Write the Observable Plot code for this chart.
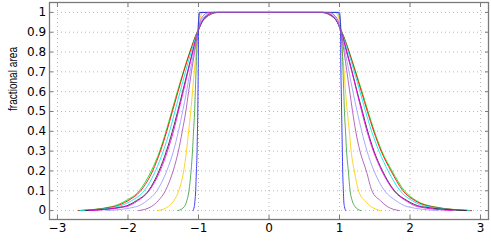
<!DOCTYPE html>
<html>
<head>
<meta charset="utf-8">
<script src="https://cdn.jsdelivr.net/npm/d3@7"></script>
<script src="https://cdn.jsdelivr.net/npm/@observablehq/plot@0.6"></script>
<style>
  html, body { margin: 0; padding: 0; background: #fff; }
  #chart { width: 491px; height: 245px; }
</style>
</head>
<body>
<div id="chart"></div>
<script>
// fractional-area levels at which each curve's left / right edge position was read
const levels = [0, 0.02, 0.05, 0.1, 0.2, 0.3, 0.4, 0.5, 0.6, 0.7, 0.8, 0.9, 0.97, 1];

const seriesNames = ["green", "red", "cyan", "black", "magenta", "lightblue", "yellow", "darkgreen", "blue", "purple"];
const seriesColors = ["#00e000", "#ff0000", "#00e8e8", "#301030", "#ee00ee", "#9a9aff", "#ffcc00", "#3f9f3f", "#2020ff", "#a850b0"];

// left edge x at each level
const greenLeft     = [-2.70, -2.23, -2.03, -1.84, -1.67, -1.55, -1.46, -1.38, -1.30, -1.215, -1.125, -1.02, -0.91, -0.72];
const redLeft       = [-2.70, -2.20, -2.00, -1.82, -1.65, -1.54, -1.45, -1.37, -1.29, -1.21, -1.12, -1.02, -0.91, -0.72];
const cyanLeft      = [-2.68, -2.15, -1.95, -1.77, -1.61, -1.50, -1.41, -1.335, -1.26, -1.185, -1.105, -1.015, -0.91, -0.75];
const blackLeft     = [-2.60, -2.06, -1.88, -1.71, -1.56, -1.455, -1.37, -1.295, -1.225, -1.155, -1.085, -1.01, -0.92, -0.78];
const magentaLeft   = [-2.55, -2.03, -1.86, -1.70, -1.545, -1.44, -1.355, -1.285, -1.215, -1.15, -1.08, -1.01, -0.92, -0.78];
const lightblueLeft = [-2.30, -1.88, -1.73, -1.59, -1.45, -1.355, -1.285, -1.225, -1.17, -1.12, -1.065, -1.01, -0.94, -0.80];
const purpleLeft    = [-1.85, -1.67, -1.57, -1.47, -1.36, -1.285, -1.23, -1.18, -1.14, -1.10, -1.055, -1.01, -0.96, -0.85];
const yellowLeft    = [-1.58, -1.43, -1.35, -1.28, -1.21, -1.17, -1.14, -1.11, -1.085, -1.06, -1.035, -1.01, -0.98, -0.93];
const darkgreenLeft = [-1.29, -1.20, -1.165, -1.135, -1.105, -1.085, -1.07, -1.055, -1.045, -1.035, -1.025, -1.012, -0.995, -0.97];
const blueLeft      = [-1.08, -1.06, -1.05, -1.04, -1.03, -1.02, -1.015, -1.01, -1.007, -1.004, -1.002, -1.0, -0.997, -0.99];

// right edge x at each level
const greenRight     = [2.87, 2.33, 2.09, 1.92, 1.745, 1.60, 1.495, 1.405, 1.32, 1.23, 1.14, 1.035, 0.93, 0.74];
const redRight       = [2.87, 2.30, 2.07, 1.90, 1.73, 1.59, 1.485, 1.395, 1.31, 1.225, 1.135, 1.035, 0.93, 0.74];
const cyanRight      = [2.85, 2.25, 2.03, 1.86, 1.69, 1.56, 1.455, 1.37, 1.29, 1.21, 1.125, 1.03, 0.93, 0.76];
const blackRight     = [2.80, 2.16, 1.96, 1.78, 1.61, 1.49, 1.40, 1.325, 1.25, 1.18, 1.105, 1.025, 0.935, 0.78];
const magentaRight   = [2.60, 2.11, 1.94, 1.77, 1.60, 1.48, 1.39, 1.315, 1.245, 1.175, 1.10, 1.025, 0.935, 0.78];
const lightblueRight = [2.40, 1.96, 1.80, 1.64, 1.49, 1.39, 1.315, 1.25, 1.19, 1.135, 1.08, 1.02, 0.95, 0.80];
const purpleRight    = [1.85, 1.68, 1.58, 1.46, 1.38, 1.29, 1.23, 1.185, 1.145, 1.105, 1.065, 1.02, 0.965, 0.85];
const yellowRight    = [1.58, 1.45, 1.36, 1.27, 1.21, 1.165, 1.14, 1.11, 1.085, 1.065, 1.04, 1.02, 0.99, 0.94];
const darkgreenRight = [1.30, 1.22, 1.18, 1.15, 1.125, 1.10, 1.085, 1.07, 1.06, 1.05, 1.04, 1.025, 1.005, 0.97];
const blueRight      = [1.09, 1.07, 1.06, 1.055, 1.045, 1.04, 1.035, 1.03, 1.025, 1.02, 1.017, 1.015, 1.01, 1.0];

const xTicks = [-3, -2, -1, 0, 1, 2, 3];
const yTicks = [0, 0.1, 0.2, 0.3, 0.4, 0.5, 0.6, 0.7, 0.8, 0.9, 1];
const yLabel = "fractional area";

const leftEdges = {green: greenLeft, red: redLeft, cyan: cyanLeft, black: blackLeft, magenta: magentaLeft,
  lightblue: lightblueLeft, purple: purpleLeft, yellow: yellowLeft, darkgreen: darkgreenLeft, blue: blueLeft};
const rightEdges = {green: greenRight, red: redRight, cyan: cyanRight, black: blackRight, magenta: magentaRight,
  lightblue: lightblueRight, purple: purpleRight, yellow: yellowRight, darkgreen: darkgreenRight, blue: blueRight};

function curvePoints(name) {
  const L = leftEdges[name], R = rightEdges[name];
  const pts = levels.map((v, j) => ({x: L[j], y: v}));
  for (let j = levels.length - 1; j >= 0; j--) pts.push({x: R[j], y: levels[j]});
  return pts;
}

const lineMarks = seriesNames.map((name, i) =>
  Plot.line(curvePoints(name), {x: "x", y: "y", stroke: seriesColors[i], strokeWidth: 1, strokeOpacity: 0.85, curve: "monotone-x"})
);

const fmtX = d3.format("d");
const fmtY = d3.format("~g");
const gridStyle = {stroke: "#b8b8b8", strokeOpacity: 1, strokeWidth: 1, strokeDasharray: "1,3"};

const chart = Plot.plot({
  width: 491,
  height: 245,
  marginLeft: 49,
  marginRight: 3,
  marginTop: 2,
  marginBottom: 26,
  style: {fontFamily: "DejaVu Sans", fontSize: "12px", background: "#fff", color: "#000"},
  x: {domain: [-3.113, 3.113]},
  y: {domain: [-0.045, 1.05]},
  marks: [
    Plot.gridX(xTicks, gridStyle),
    Plot.gridY(yTicks, gridStyle),
    ...lineMarks,
    Plot.frame({stroke: "#7a7a7a", strokeWidth: 1.3}),
    Plot.axisX(xTicks, {anchor: "bottom", tickSize: -4, tickPadding: 8, tickFormat: fmtX, stroke: "#7a7a7a", label: null}),
    Plot.axisX(xTicks, {anchor: "top", tickSize: -4, tickFormat: () => "", stroke: "#7a7a7a", label: null}),
    Plot.axisY(yTicks, {anchor: "left", tickSize: -4, tickPadding: 7.3, tickFormat: fmtY, stroke: "#7a7a7a", label: null}),
    Plot.axisY(yTicks, {anchor: "right", tickSize: -4, tickFormat: () => "", stroke: "#7a7a7a", label: null}),
    Plot.text([yLabel], {frameAnchor: "left", text: d => d, rotate: -90, dx: -36, fontSize: 12,
      fontFamily: "'Liberation Sans Narrow', 'Liberation Sans', sans-serif", fill: "#000", className: "ylab"})
  ]
});

document.getElementById("chart").appendChild(chart);
d3.select(chart).selectAll(".ylab text").attr("textLength", 64).attr("lengthAdjust", "spacingAndGlyphs");
</script>
</body>
</html>
